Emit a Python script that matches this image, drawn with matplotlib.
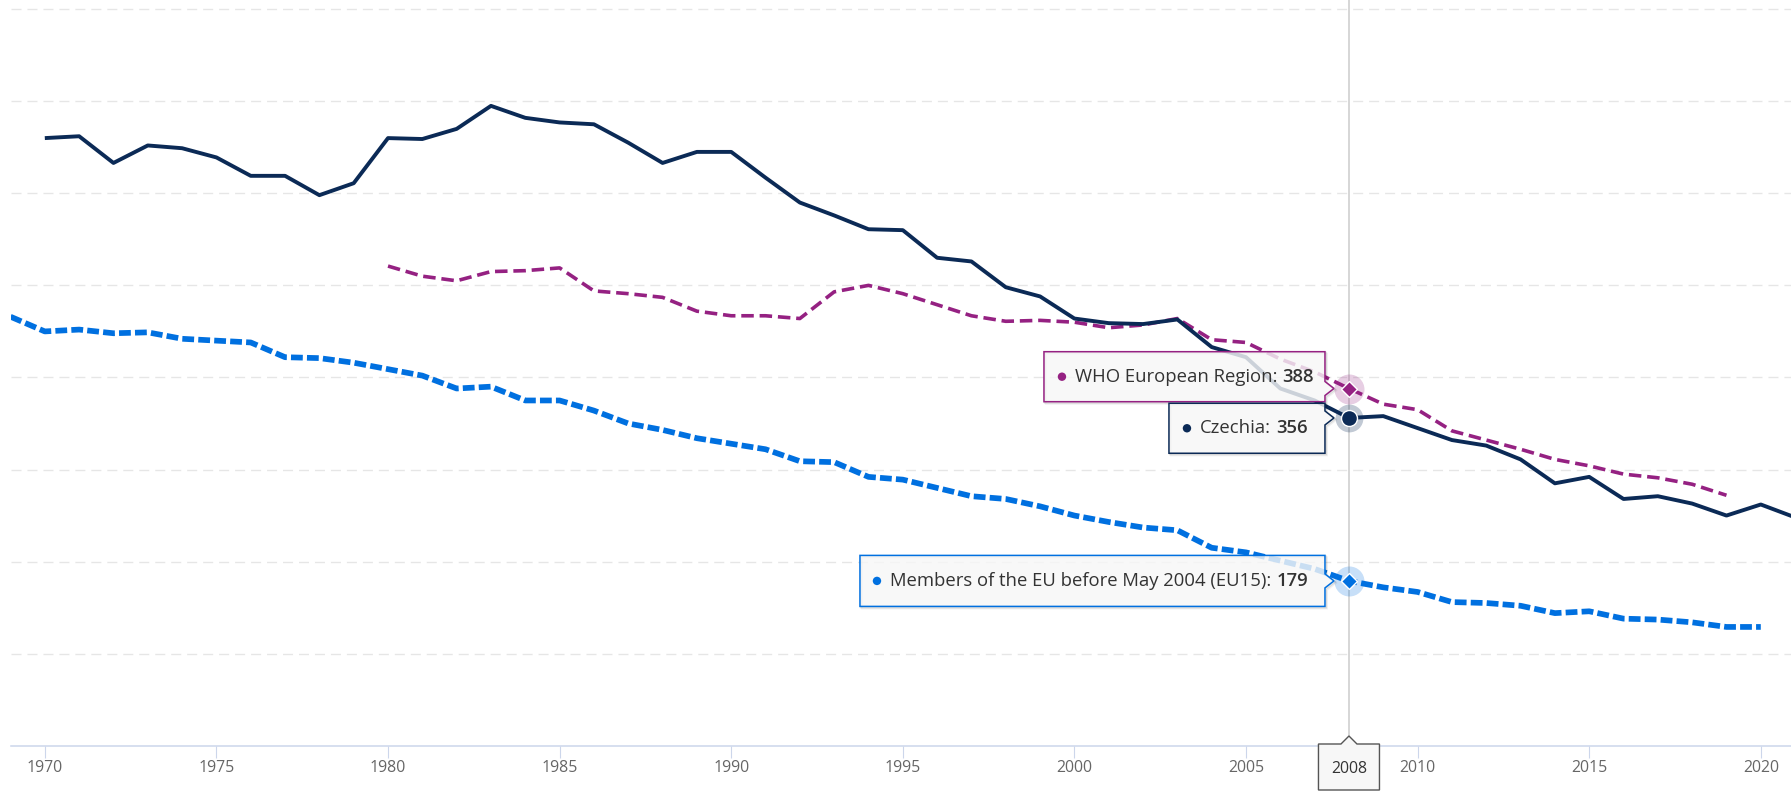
import matplotlib
matplotlib.use("Agg")
import matplotlib.pyplot as plt
from matplotlib.patches import Polygon, Circle
from matplotlib.transforms import IdentityTransform

plt.rcParams['font.family'] = ['Open Sans', 'DejaVu Sans']
plt.rcParams['lines.scale_dashes'] = False

# data
years_cz = list(range(1970, 2022))
czechia = [660, 662, 633, 652, 649, 639, 619, 619, 598, 611,
           660, 659, 670, 695, 682, 677, 675, 655, 633, 645,
           645, 617, 590, 576, 561, 560, 530, 526, 498, 488,
           464, 459, 458, 463, 433, 422, 388, 375, 356, 358,
           345, 332, 326, 311, 285, 292, 268, 271, 263, 250,
           262, 248]

years_who = list(range(1980, 2020))
who_europe = [521, 510, 505, 515, 516, 519, 494, 491, 487, 472,
              467, 467, 464, 493, 500, 491, 479, 467, 461, 462,
              460, 454, 457, 464, 441, 438, 420, 406, 388, 371,
              365, 342, 332, 322, 311, 304, 295, 291, 284, 272]

years_eu = list(range(1969, 2021))
eu15 = [466, 450, 452, 448, 449, 442, 440, 438, 422, 421,
        416, 409, 402, 388, 390, 375, 375, 364, 350, 343,
        334, 328, 322, 309, 308, 292, 289, 280, 271, 268,
        260, 250, 243, 237, 234, 215, 210, 201, 192, 179,
        172, 167, 156, 155, 152, 144, 146, 138, 137, 134,
        129, 129]

x_ticks = [1970, 1975, 1980, 1985, 1990, 1995, 2000, 2005, 2010, 2015, 2020]
y_grid = [100, 200, 300, 400, 500, 600, 700, 800]
hover_year = 2008

c_cz = '#0b2a56'
c_who = '#952182'
c_eu = '#0070e0'
txt_col = '#333333'

W, H = 1791, 791
fig = plt.figure(figsize=(W / 100, H / 100), dpi=100)
ax = fig.add_axes([10.5 / W, 45.3 / H, 1 - 10.5 / W, 745.7 / H])
ax.set_xlim(1969, 2020.88)
ax.set_ylim(0, 810)

for s in ['top', 'right', 'left']:
    ax.spines[s].set_visible(False)
ax.spines['bottom'].set_color('#ccd6eb')
ax.spines['bottom'].set_linewidth(1.1)

ax.set_yticks(y_grid)
ax.tick_params(axis='y', length=0, labelleft=False)
ax.yaxis.grid(True, color='#e6e6e6', lw=1.0, ls=(0, (7.2, 4.3)))
ax.set_axisbelow(True)

ax.set_xticks(x_ticks)
ax.tick_params(axis='x', length=8.3, width=0.8, color='#ccd6eb',
               labelcolor='#666666', labelsize=11.4, pad=2)

ax.axvline(hover_year, color='#cccccc', lw=1.1, zorder=1)

ax.plot(years_eu, eu15, color=c_eu, lw=4.1, ls=(0, (8.5, 3.0)),
        dash_joinstyle='round', zorder=3)
ax.plot(years_who, who_europe, color=c_who, lw=2.6, ls=(0, (9.0, 4.2)),
        dash_joinstyle='round', zorder=3)
ax.plot(years_cz, czechia, color=c_cz, lw=2.8, solid_joinstyle='round',
        solid_capstyle='butt', zorder=3)

renderer = fig.canvas.get_renderer()


def callout(px, py, left, right, bottom, top, edge):
    pts = [(px + left, py + top), (px + right, py + top), (px + right, py + 7),
           (px + right + 9, py), (px + right, py - 7), (px + right, py + bottom),
           (px + left, py + bottom)]
    # soft shadow drawn as offset outlines only
    for k, a in [(2, 0.06), (1, 0.1)]:
        sh = [(x + k, y - k) for x, y in pts]
        fig.add_artist(Polygon(sh, closed=True, fc='none', ec=(0, 0, 0, a), lw=1.5,
                               transform=IdentityTransform(), zorder=8))
    fig.add_artist(Polygon(pts, closed=True, fc=(0.97, 0.97, 0.97, 0.82),
                           ec=edge, lw=1.1, transform=IdentityTransform(), zorder=9))


def tooltip(year, value, label, color, left, bottom, top, dot_x):
    px, py = ax.transData.transform((year, value))
    right = -24
    callout(px, py, left, right, bottom, top, color)
    cy = py + (top + bottom) / 2
    fig.add_artist(Circle((px + dot_x, cy), 4.2, fc=color, ec='none',
                          transform=IdentityTransform(), zorder=10))
    t = fig.text((px + dot_x + 13) / W, cy / H, label, color=txt_col,
                 fontsize=13.3, va='center', ha='left', zorder=10)
    bb = t.get_window_extent(renderer)
    fig.text((bb.x1 + 5) / W, cy / H, str(value), color=txt_col,
             fontsize=13.3, fontweight='semibold', va='center', ha='left', zorder=10)


v_who = who_europe[years_who.index(hover_year)]
v_cz = czechia[years_cz.index(hover_year)]
v_eu = eu15[years_eu.index(hover_year)]

tooltip(hover_year, v_who, 'WHO European Region:', c_who, -305, -13.2, 36.8, -287)
tooltip(hover_year, v_cz, 'Czechia:', c_cz, -180, -35.3, 14.7, -162)
tooltip(hover_year, v_eu, 'Members of the EU before May 2004 (EU15):', c_eu,
        -489, -25.5, 25.5, -472)

# hovered points
ax.plot(hover_year, v_who, 'o', ms=21.6, color=c_who, alpha=0.22, mew=0, zorder=11)
ax.plot(hover_year, v_who, 'D', ms=8, color=c_who, mec='white', mew=1, zorder=12)
ax.plot(hover_year, v_cz, 'o', ms=20, color=c_cz, alpha=0.25, mew=0, zorder=11)
ax.plot(hover_year, v_cz, 'o', ms=11.5, color=c_cz, mec='white', mew=1, zorder=12)
ax.plot(hover_year, v_eu, 'o', ms=21.6, color=c_eu, alpha=0.22, mew=0, zorder=11)
ax.plot(hover_year, v_eu, 'D', ms=8, color=c_eu, mec='white', mew=1, zorder=12)

# x-axis crosshair label
hx, _ = ax.transData.transform((hover_year, 0))
lab = [(hx - 30.5, 47), (hx - 8, 47), (hx, 55), (hx + 8, 47), (hx + 30.5, 47),
       (hx + 30.5, 1), (hx - 30.5, 1)]
fig.add_artist(Polygon(lab, closed=True, fc='#f7f7f7', ec='#555555', lw=1.0,
                       transform=IdentityTransform(), zorder=9))
fig.text(hx / W, 22 / H, str(hover_year), color=txt_col, fontsize=11.4,
         ha='center', va='center', zorder=10)

fig.savefig('out.png', dpi=100)
